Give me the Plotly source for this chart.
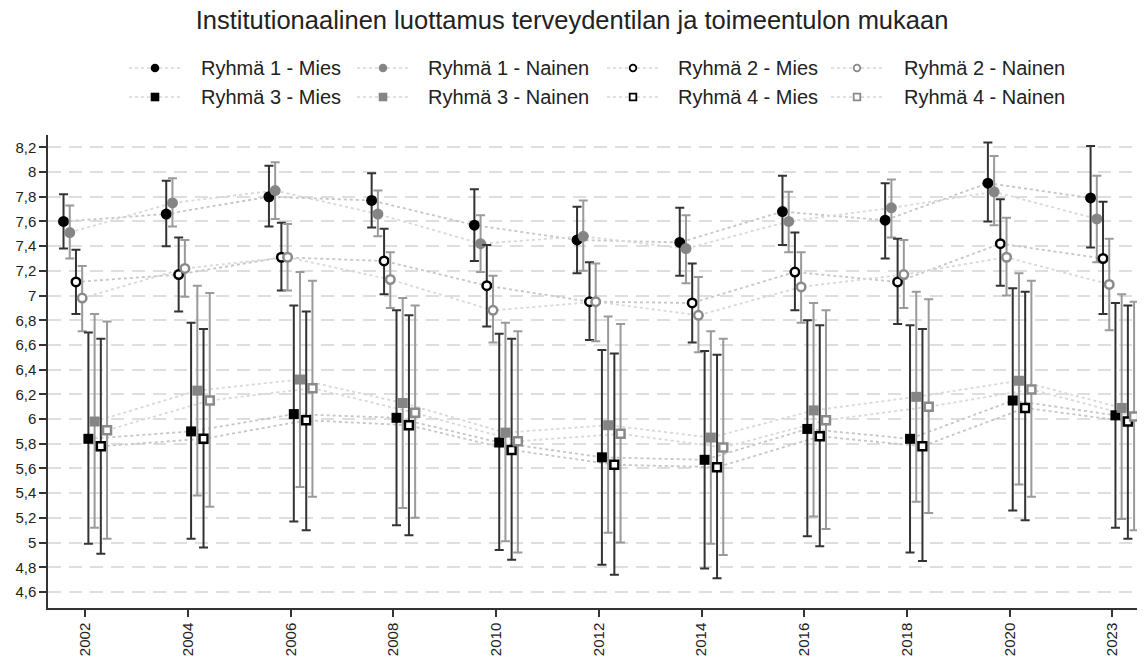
import plotly.graph_objects as go

# Vuodet (kategoriat x-akselilla)
years = ["2002", "2004", "2006", "2008", "2010", "2012", "2014", "2016", "2018", "2020", "2023"]

# Keskiarvot ja luottamusvälit ryhmittäin
r1_mies = [7.60, 7.66, 7.80, 7.77, 7.57, 7.45, 7.43, 7.68, 7.61, 7.91, 7.79]
r1_mies_lo = [7.38, 7.40, 7.56, 7.55, 7.28, 7.18, 7.16, 7.41, 7.30, 7.60, 7.39]
r1_mies_hi = [7.82, 7.93, 8.05, 7.99, 7.86, 7.72, 7.71, 7.97, 7.91, 8.24, 8.21]

r1_nainen = [7.51, 7.75, 7.85, 7.66, 7.42, 7.48, 7.38, 7.60, 7.71, 7.84, 7.62]
r1_nainen_lo = [7.30, 7.56, 7.62, 7.48, 7.19, 7.20, 7.10, 7.35, 7.47, 7.57, 7.27]
r1_nainen_hi = [7.73, 7.95, 8.08, 7.85, 7.65, 7.77, 7.65, 7.84, 7.94, 8.13, 7.97]

r2_mies = [7.11, 7.17, 7.31, 7.28, 7.08, 6.95, 6.94, 7.19, 7.11, 7.42, 7.30]
r2_mies_lo = [6.85, 6.87, 7.04, 7.01, 6.75, 6.64, 6.62, 6.88, 6.77, 7.08, 6.85]
r2_mies_hi = [7.37, 7.47, 7.59, 7.54, 7.41, 7.27, 7.26, 7.51, 7.46, 7.78, 7.76]

r2_nainen = [6.98, 7.22, 7.31, 7.13, 6.88, 6.95, 6.84, 7.07, 7.17, 7.31, 7.09]
r2_nainen_lo = [6.71, 6.99, 7.04, 6.90, 6.62, 6.63, 6.54, 6.78, 6.90, 7.00, 6.72]
r2_nainen_hi = [7.24, 7.45, 7.58, 7.35, 7.16, 7.26, 7.15, 7.35, 7.45, 7.63, 7.46]

r3_mies = [5.84, 5.90, 6.04, 6.01, 5.81, 5.69, 5.67, 5.92, 5.84, 6.15, 6.03]
r3_mies_lo = [4.99, 5.03, 5.17, 5.14, 4.94, 4.82, 4.79, 5.05, 4.92, 5.26, 5.12]
r3_mies_hi = [6.70, 6.78, 6.92, 6.88, 6.69, 6.56, 6.55, 6.80, 6.76, 7.06, 6.94]

r3_nainen = [5.98, 6.23, 6.32, 6.13, 5.89, 5.95, 5.85, 6.07, 6.18, 6.31, 6.09]
r3_nainen_lo = [5.12, 5.38, 5.45, 5.28, 5.01, 5.08, 4.99, 5.21, 5.33, 5.47, 5.19]
r3_nainen_hi = [6.85, 7.08, 7.19, 6.98, 6.78, 6.83, 6.71, 6.94, 7.03, 7.18, 7.01]

r4_mies = [5.78, 5.84, 5.99, 5.95, 5.75, 5.63, 5.61, 5.86, 5.78, 6.09, 5.98]
r4_mies_lo = [4.91, 4.96, 5.10, 5.06, 4.86, 4.74, 4.71, 4.97, 4.85, 5.18, 5.03]
r4_mies_hi = [6.65, 6.73, 6.87, 6.84, 6.65, 6.53, 6.52, 6.76, 6.73, 7.03, 6.92]

r4_nainen = [5.91, 6.15, 6.25, 6.05, 5.82, 5.88, 5.77, 5.99, 6.10, 6.24, 6.02]
r4_nainen_lo = [5.03, 5.29, 5.37, 5.20, 4.92, 5.00, 4.90, 5.11, 5.24, 5.37, 5.10]
r4_nainen_hi = [6.79, 7.02, 7.12, 6.92, 6.71, 6.77, 6.65, 6.88, 6.97, 7.12, 6.95]

y_ticks = [4.6, 4.8, 5.0, 5.2, 5.4, 5.6, 5.8, 6.0, 6.2, 6.4, 6.6, 6.8, 7.0, 7.2, 7.4, 7.6, 7.8, 8.0, 8.2]
y_ticktext = ["4,6", "4,8", "5", "5,2", "5,4", "5,6", "5,8", "6", "6,2", "6,4", "6,6",
              "6,8", "7", "7,2", "7,4", "7,6", "7,8", "8", "8,2"]

FONT = "Liberation Sans, Arial, sans-serif"
W, H = 1137, 651  # sivun 8 px reunus huomioitu
ML, MT, MB = 40, 127, 51

# (nimi, keskiarvo, ala, ylä, symboli, täyttö, reunaväri, koko, virhepalkin väri, viivan väri)
series = [
    ("Ryhmä 1 - Mies", r1_mies, r1_mies_lo, r1_mies_hi, "circle", "#000000", "#000000", 11, "#333333", "#c6c6c6"),
    ("Ryhmä 1 - Nainen", r1_nainen, r1_nainen_lo, r1_nainen_hi, "circle", "#858585", "#858585", 11, "#9a9a9a", "#d8d8d8"),
    ("Ryhmä 2 - Mies", r2_mies, r2_mies_lo, r2_mies_hi, "circle", "#ffffff", "#000000", 8.5, "#333333", "#c6c6c6"),
    ("Ryhmä 2 - Nainen", r2_nainen, r2_nainen_lo, r2_nainen_hi, "circle", "#ffffff", "#8a8a8a", 8.5, "#9a9a9a", "#d8d8d8"),
    ("Ryhmä 3 - Mies", r3_mies, r3_mies_lo, r3_mies_hi, "square", "#000000", "#000000", 10, "#333333", "#c6c6c6"),
    ("Ryhmä 3 - Nainen", r3_nainen, r3_nainen_lo, r3_nainen_hi, "square", "#858585", "#858585", 10, "#9a9a9a", "#d8d8d8"),
    ("Ryhmä 4 - Mies", r4_mies, r4_mies_lo, r4_mies_hi, "square", "#ffffff", "#000000", 8, "#333333", "#c6c6c6"),
    ("Ryhmä 4 - Nainen", r4_nainen, r4_nainen_lo, r4_nainen_hi, "square", "#ffffff", "#8a8a8a", 8, "#9a9a9a", "#d8d8d8"),
]

step = 0.0605  # sivuttaissiirto sarjojen välillä
n = len(series)

fig = go.Figure()

# Pisteviivat ensin, jotta ne jäävät merkkien alle
for i, s in enumerate(series):
    name, mean, lo, hi, sym, fill, edge, size, ecol, lcol = s
    xs = [k + (i - (n - 1) / 2) * step for k in range(len(years))]
    fig.add_trace(go.Scatter(
        x=xs, y=mean, mode="lines",
        line=dict(color=lcol, width=1.8, dash="dot"),
        showlegend=False, hoverinfo="skip",
    ))

# Merkit ja luottamusvälit
for i, s in enumerate(series):
    name, mean, lo, hi, sym, fill, edge, size, ecol, lcol = s
    xs = [k + (i - (n - 1) / 2) * step for k in range(len(years))]
    hollow = fill == "#ffffff"
    fig.add_trace(go.Scatter(
        x=xs, y=mean, mode="markers", name=name,
        marker=dict(symbol=sym, size=size, color=fill,
                    line=dict(color=edge, width=2.5 if hollow else 0)),
        error_y=dict(type="data", symmetric=False,
                     array=[h - m for h, m in zip(hi, mean)],
                     arrayminus=[m - l for m, l in zip(mean, lo)],
                     color=ecol, thickness=2, width=4.5),
        showlegend=False,
        customdata=[[y] for y in years],
        hovertemplate="%{customdata[0]}: %{y:.2f}<extra>" + name + "</extra>",
    ))

# Selite piirretään käsin: 2 riviä x 4 saraketta (sivun pikseleinä)
pw = W - ML
ph = H - MT - MB
def px_x(p):
    return (p - 8 - ML) / pw
def px_y(p):
    return (H - MB + 8 - p) / ph

legend_marker_x = [155, 383, 633, 857]
legend_text_x = [200, 427, 677, 903]
legend_row_y = [68, 97]

shapes = []
annotations = []
for i, s in enumerate(series):
    name, mean, lo, hi, sym, fill, edge, size, ecol, lcol = s
    col, row = i % 4, i // 4
    mx, my = legend_marker_x[col], legend_row_y[row]
    hollow = fill == "#ffffff"
    shapes.append(dict(type="line", xref="paper", yref="paper",
                       x0=px_x(mx - 26), x1=px_x(mx + 28), y0=px_y(my), y1=px_y(my),
                       line=dict(color="#d6d6d6", width=1.5, dash="dot")))
    r = 3.3 if hollow else 4.3
    shapes.append(dict(type="circle" if sym == "circle" else "rect",
                       xref="paper", yref="paper",
                       xsizemode="pixel", ysizemode="pixel",
                       xanchor=px_x(mx), yanchor=px_y(my),
                       x0=-r, x1=r, y0=-r, y1=r,
                       fillcolor=fill,
                       line=dict(color=edge, width=1.8 if hollow else 0)))
    annotations.append(dict(text=name, xref="paper", yref="paper",
                            x=px_x(legend_text_x[col] - 1), y=px_y(my),
                            xanchor="left", yanchor="middle", showarrow=False,
                            font=dict(size=20, color="#222222")))

fig.update_layout(
    width=W, height=H,
    margin=dict(l=ML, r=0, t=MT, b=MB),
    paper_bgcolor="white", plot_bgcolor="white",
    font=dict(family=FONT, color="#222222"),
    showlegend=False,
    title=dict(text="Institutionaalinen luottamus terveydentilan ja toimeentulon mukaan",
               font=dict(size=25.5, color="#222222"),
               x=564 / W, xanchor="center", xref="container",
               y=1 - 12 / H, yanchor="middle", yref="container"),
    shapes=shapes,
    annotations=annotations,
    xaxis=dict(range=[-0.363, 10.318], tickmode="array",
               tickvals=list(range(len(years))), ticktext=years,
               tickangle=-90, tickfont=dict(size=15, color="#222222"),
               ticks="outside", ticklen=7, tickwidth=1.5, tickcolor="#333333",
               showline=True, linecolor="#333333", linewidth=1.5,
               showgrid=False, zeroline=False, automargin=False),
    yaxis=dict(range=[4.47, 8.3], tickmode="array",
               tickvals=y_ticks, ticktext=y_ticktext,
               tickfont=dict(size=15, color="#222222"),
               ticks="outside", ticklen=7, tickwidth=1.5, tickcolor="#333333",
               showline=True, linecolor="#333333", linewidth=1.5,
               showgrid=True, gridcolor="#dedede", gridwidth=1.5, griddash="13px,8px",
               zeroline=False, automargin=False),
)

fig.write_html("out.html")
